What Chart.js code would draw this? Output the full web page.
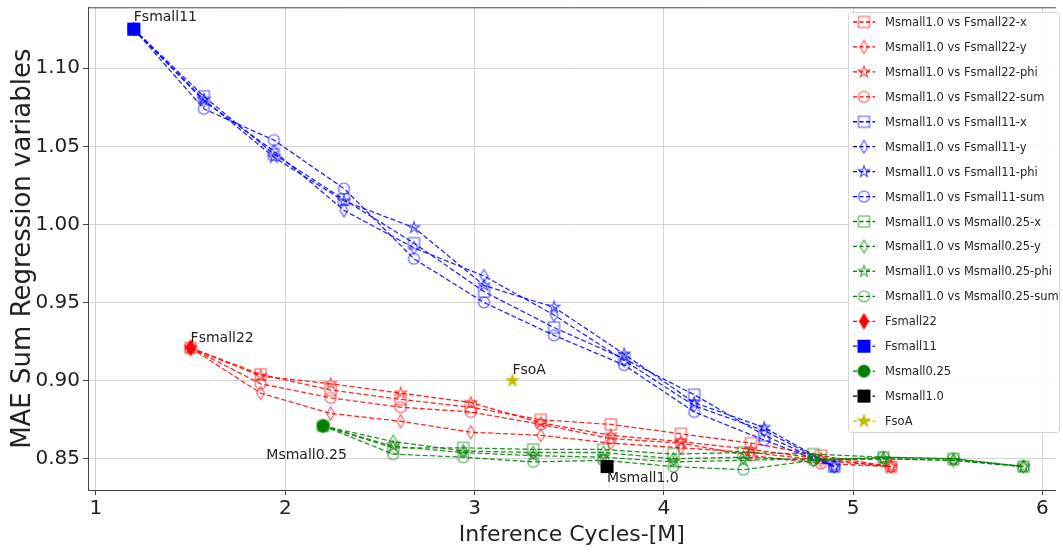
<!DOCTYPE html>
<html>
<head>
<meta charset="utf-8">
<script src="https://cdn.jsdelivr.net/npm/chart.js@4.4.1/dist/chart.umd.min.js"></script>
<style>
  html, body { margin: 0; padding: 0; background: #fff; }
  #wrap { width: 1063px; height: 552px; }
</style>
</head>
<body>
<div id="wrap"><canvas id="myChart" width="1063" height="552"></canvas></div>
<script>
// inference cycles (x) for each group
const blueX = [1.2, 1.57, 1.94, 2.31, 2.68, 3.05, 3.42, 3.79, 4.16, 4.53, 4.90];
const redX = [1.5, 1.87, 2.24, 2.61, 2.98, 3.35, 3.72, 4.09, 4.46, 4.83, 5.2];
const greenX = [2.2, 2.57, 2.94, 3.31, 3.68, 4.05, 4.42, 4.79, 5.16, 5.53, 5.9];

// MAE values
const fs22_x = [0.921, 0.904, 0.894, 0.888, 0.883, 0.875, 0.872, 0.866, 0.860, 0.852, 0.845];
const fs22_y = [0.921, 0.892, 0.879, 0.874, 0.867, 0.865, 0.860, 0.857, 0.854, 0.849, 0.845];
const fs22_phi = [0.921, 0.903, 0.898, 0.892, 0.886, 0.873, 0.865, 0.861, 0.856, 0.850, 0.845];
const fs22_sum = [0.921, 0.898, 0.889, 0.883, 0.880, 0.872, 0.863, 0.860, 0.852, 0.847, 0.845];

const fs11_x = [1.125, 1.082, 1.045, 1.016, 0.988, 0.957, 0.934, 0.914, 0.891, 0.865, 0.845];
const fs11_y = [1.125, 1.079, 1.047, 1.009, 0.985, 0.967, 0.942, 0.913, 0.884, 0.868, 0.845];
const fs11_phi = [1.125, 1.080, 1.043, 1.015, 0.998, 0.961, 0.947, 0.917, 0.886, 0.870, 0.845];
const fs11_sum = [1.125, 1.074, 1.054, 1.023, 0.978, 0.950, 0.929, 0.910, 0.880, 0.862, 0.845];

const ms025_x = [0.871, 0.857, 0.857, 0.856, 0.856, 0.853, 0.854, 0.853, 0.851, 0.850, 0.845];
const ms025_y = [0.871, 0.861, 0.855, 0.854, 0.854, 0.850, 0.851, 0.849, 0.850, 0.849, 0.845];
const ms025_phi = [0.871, 0.858, 0.854, 0.852, 0.851, 0.848, 0.849, 0.850, 0.850, 0.849, 0.845];
const ms025_sum = [0.871, 0.853, 0.851, 0.848, 0.849, 0.845, 0.843, 0.849, 0.851, 0.850, 0.845];

// single reference models [x, y]
const fsmall22 = [1.5, 0.921];
const fsmall11 = [1.2, 1.125];
const msmall025 = [2.2, 0.871];
const msmall10 = [3.7, 0.845];
const fsoA = [3.2, 0.900];

const xTicks = [1, 2, 3, 4, 5, 6];
const yTicks = [0.85, 0.90, 0.95, 1.00, 1.05, 1.10];

const labels = [
  { text: "Fsmall11", x: 1.2, y: 1.130 },
  { text: "Fsmall22", x: 1.5, y: 0.925 },
  { text: "Msmall0.25", x: 1.9, y: 0.850 },
  { text: "FsoA", x: 3.2, y: 0.904 },
  { text: "Msmall1.0", x: 3.7, y: 0.835 },
];

const FONT = "'DejaVu Sans', sans-serif";

// build marker images (matplotlib look)
function rgba(hex, a) {
  const n = parseInt(hex.slice(1), 16);
  return "rgba(" + (n >> 16) + "," + ((n >> 8) & 255) + "," + (n & 255) + "," + a + ")";
}

function marker(shape, color, size, filled) {
  const pad = 3;
  const c = document.createElement("canvas");
  c.width = c.height = size + pad * 2;
  const g = c.getContext("2d");
  const m = c.width / 2;
  const r = size / 2;
  g.beginPath();
  if (shape === "square") {
    g.rect(m - r, m - r, size, size);
  } else if (shape === "diamond") {
    g.moveTo(m, m - r);
    g.lineTo(m + r * 0.6, m);
    g.lineTo(m, m + r);
    g.lineTo(m - r * 0.6, m);
    g.closePath();
  } else if (shape === "circle") {
    g.arc(m, m, r, 0, Math.PI * 2);
  } else if (shape === "star") {
    for (let i = 0; i < 10; i++) {
      const rr = i % 2 === 0 ? r : r * 0.382;
      const a = -Math.PI / 2 + i * Math.PI / 5;
      const px = m + rr * Math.cos(a), py = m + rr * Math.sin(a);
      if (i === 0) g.moveTo(px, py); else g.lineTo(px, py);
    }
    g.closePath();
  }
  if (filled) {
    g.fillStyle = color;
    g.fill();
  } else {
    g.lineWidth = 1.1;
    g.strokeStyle = rgba(color, 0.7);
    g.stroke();
  }
  return c;
}

const RED = "#ff0000", BLUE = "#0000ff", GREEN = "#008000";
const shapes = ["square", "diamond", "star", "circle"];
const suffix = ["x", "y", "phi", "sum"];
const openSize = { square: 11, diamond: 13, star: 12, circle: 11 };

const groups = [
  { name: "Fsmall22", color: RED, xs: redX, series: [fs22_x, fs22_y, fs22_phi, fs22_sum] },
  { name: "Fsmall11", color: BLUE, xs: blueX, series: [fs11_x, fs11_y, fs11_phi, fs11_sum] },
  { name: "Msmall0.25", color: GREEN, xs: greenX, series: [ms025_x, ms025_y, ms025_phi, ms025_sum] },
];

const datasets = [];
groups.forEach(function (grp) {
  grp.series.forEach(function (vals, k) {
    datasets.push({
      label: "Msmall1.0 vs " + grp.name + "-" + suffix[k],
      data: vals.map(function (v, i) { return { x: grp.xs[i], y: v }; }),
      showLine: true,
      borderColor: rgba(grp.color, 0.85),
      borderWidth: 1.3,
      borderDash: [5, 2.5],
      pointStyle: marker(shapes[k], grp.color, openSize[shapes[k]], false),
      lineColor: grp.color,
    });
  });
});

const singles = [
  { label: "Fsmall22", pt: fsmall22, color: RED, img: marker("diamond", RED, 17, true) },
  { label: "Fsmall11", pt: fsmall11, color: BLUE, img: marker("square", BLUE, 13, true) },
  { label: "Msmall0.25", pt: msmall025, color: GREEN, img: marker("circle", GREEN, 13, true) },
  { label: "Msmall1.0", pt: msmall10, color: "#000000", img: marker("square", "#000000", 13, true) },
  { label: "FsoA", pt: fsoA, color: "#bfbf00", img: marker("star", "#bfbf00", 16, true) },
];
singles.forEach(function (s) {
  datasets.push({
    label: s.label,
    data: [{ x: s.pt[0], y: s.pt[1] }],
    showLine: false,
    borderColor: s.color,
    pointStyle: s.img,
    lineColor: s.color,
  });
});

// later datasets drawn on top, like matplotlib
datasets.forEach(function (d, i) { d.order = 100 - i; });

const annotatePlugin = {
  id: "annotate",
  afterDatasetsDraw(chart) {
    const ctx = chart.ctx, xs = chart.scales.x, ys = chart.scales.y;
    ctx.save();
    ctx.font = "14px " + FONT;
    ctx.fillStyle = "#222";
    ctx.textAlign = "left";
    ctx.textBaseline = "alphabetic";
    labels.forEach(function (l) {
      ctx.fillText(l.text, xs.getPixelForValue(l.x), ys.getPixelForValue(l.y));
    });
    // top spine
    const a = chart.chartArea;
    ctx.strokeStyle = "#444";
    ctx.lineWidth = 1;
    ctx.beginPath();
    ctx.moveTo(a.left, a.top + 0.5);
    ctx.lineTo(a.right, a.top + 0.5);
    ctx.stroke();
    ctx.restore();
  },
};

const legendPlugin = {
  id: "mplLegend",
  afterDraw(chart) {
    const ctx = chart.ctx;
    const bx = 848, by = 12, bw = 211, bh = 420;
    ctx.save();
    ctx.fillStyle = "rgba(255,255,255,0.85)";
    ctx.strokeStyle = "#d5d5d5";
    ctx.lineWidth = 1;
    ctx.beginPath();
    ctx.roundRect(bx + 0.5, by + 0.5, bw, bh, 3);
    ctx.fill();
    ctx.stroke();
    ctx.font = "11.5px " + FONT;
    ctx.textBaseline = "middle";
    chart.data.datasets.forEach(function (d, i) {
      const y = by + 10 + i * 24.94;
      ctx.strokeStyle = d.lineColor;
      ctx.lineWidth = 1.3;
      ctx.setLineDash([4, 2.5]);
      ctx.beginPath();
      ctx.moveTo(853, y);
      ctx.lineTo(875, y);
      ctx.stroke();
      ctx.setLineDash([]);
      const img = d.pointStyle;
      ctx.drawImage(img, 864 - img.width / 2, y - img.height / 2);
      ctx.fillStyle = "#262626";
      ctx.fillText(d.label, 885, y + 1);
    });
    ctx.restore();
  },
};

const ctx = document.getElementById("myChart").getContext("2d");

const config = {
  type: "scatter",
  data: { datasets: datasets },
  options: {
    responsive: false,
    animation: false,
    layout: { padding: { top: 6, right: 0, left: 0, bottom: 0 } },
    plugins: {
      legend: { display: false },
      tooltip: { enabled: false },
    },
    elements: {
      point: { radius: 6 },
      line: { tension: 0 },
    },
    scales: {
      x: {
        type: "linear",
        min: 0.958,
        max: 6.07,
        afterBuildTicks: function (s) { s.ticks = xTicks.map(function (v) { return { value: v }; }); },
        afterFit: function (s) { s.height = 62; s.paddingLeft = 0; s.paddingRight = 0; },
        ticks: {
          color: "#222",
          font: { family: FONT, size: 20 },
          padding: 2,
          callback: function (v) { return String(v); },
        },
        grid: { color: "#d4d4d4", lineWidth: 1, tickLength: 5, tickColor: "#444" },
        border: { color: "#444", width: 1 },
        title: {
          display: true,
          text: "Inference Cycles-[M]",
          color: "#222",
          font: { family: FONT, size: 22 },
          padding: { top: 0, bottom: 4 },
        },
      },
      y: {
        type: "linear",
        min: 0.830,
        max: 1.139,
        afterBuildTicks: function (s) { s.ticks = yTicks.map(function (v) { return { value: v }; }); },
        afterFit: function (s) { s.width = 88; s.paddingTop = 0; s.paddingBottom = 0; },
        ticks: {
          color: "#222",
          font: { family: FONT, size: 20 },
          padding: 3,
          callback: function (v) { return Number(v).toFixed(2); },
        },
        grid: { color: "#d4d4d4", lineWidth: 1, tickLength: 5, tickColor: "#444" },
        border: { color: "#444", width: 1 },
        title: {
          display: true,
          text: "MAE Sum Regression variables",
          color: "#222",
          font: { family: FONT, size: 26 },
          padding: { top: 8, bottom: 0 },
        },
      },
    },
  },
  plugins: [annotatePlugin, legendPlugin],
};

const myChart = new Chart(ctx, config);
</script>
</body>
</html>
